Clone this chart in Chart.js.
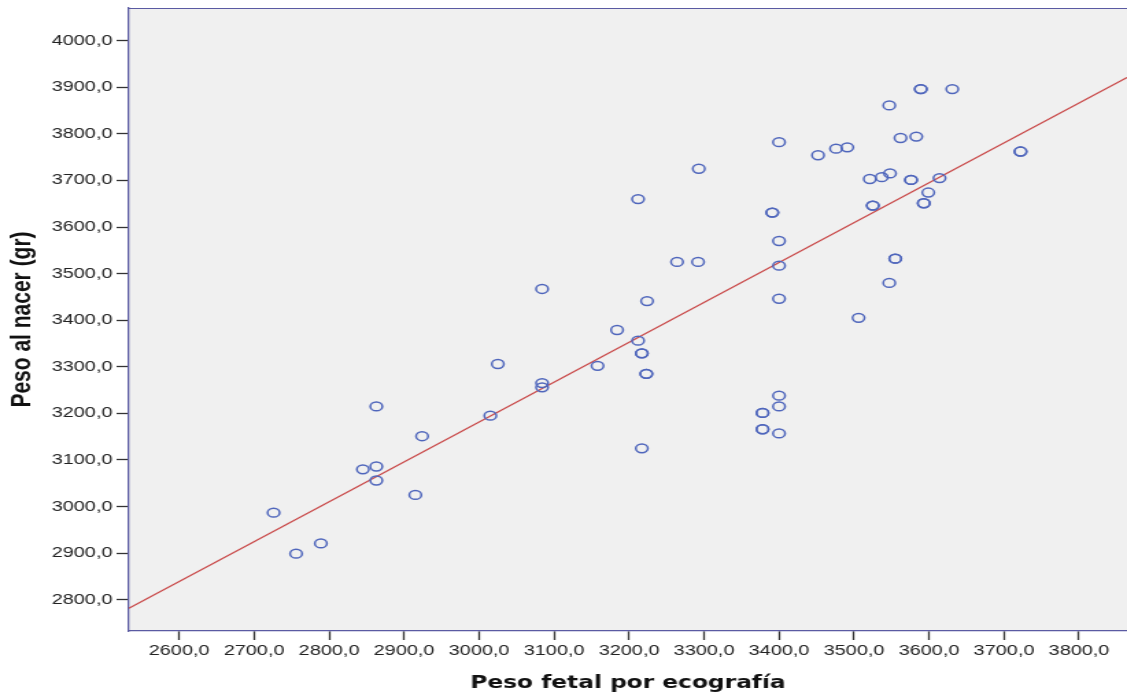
<!doctype html>
<html>
<head>
<meta charset="utf-8">
<title>Peso fetal por ecografía vs Peso al nacer</title>
<style>
  html, body { margin: 0; padding: 0; background: #fff; }
  /* the chart is drawn narrow and stretched sideways, like the original export */
  #chart { display: block; width: 1127px !important; height: 697px !important; }
</style>
</head>
<body>
<canvas id="chart" width="822" height="697" style="width:1127px;height:697px"></canvas>
<script src="https://cdn.jsdelivr.net/npm/chart.js"></script>
<script>
// Peso fetal por ecografía (x) and peso al nacer (y), one entry per case
const pesoEco = [
  2726, 2756, 2789, 2845, 2863, 2863, 2863, 2915, 2924, 3015,
  3025, 3084, 3084, 3084, 3158, 3184, 3212, 3212, 3217, 3217,
  3217, 3223, 3223, 3224, 3264, 3292, 3293, 3378, 3378, 3378,
  3378, 3391, 3391, 3400, 3400, 3400, 3400, 3400, 3400, 3400,
  3452, 3476, 3491, 3506, 3521, 3525, 3525, 3537, 3548, 3547,
  3547, 3555, 3555, 3562, 3576, 3576, 3583, 3589, 3589, 3593,
  3593, 3599, 3614, 3631, 3722, 3722
];
const pesoNacer = [
  2987, 2899, 2921, 3080, 3086, 3056, 3215, 3025, 3151, 3195,
  3306, 3265, 3256, 3467, 3302, 3379, 3660, 3356, 3329, 3329,
  3125, 3285, 3285, 3441, 3525, 3525, 3725, 3201, 3201, 3166,
  3166, 3631, 3631, 3782, 3570, 3517, 3446, 3238, 3215, 3157,
  3754, 3768, 3771, 3405, 3703, 3646, 3646, 3707, 3715, 3861,
  3480, 3532, 3532, 3791, 3701, 3701, 3794, 3896, 3896, 3651,
  3651, 3674, 3705, 3896, 3762, 3762
];

// fit line, read at the two edges of the plot
const fitX = [2533, 3864];
const fitY = [2782, 3921];

const xTicks = [2600, 2700, 2800, 2900, 3000, 3100, 3200, 3300, 3400, 3500, 3600, 3700, 3800];
const yTicks = [2800, 2900, 3000, 3100, 3200, 3300, 3400, 3500, 3600, 3700, 3800, 3900, 4000];

const fmt = (v) => Number(v).toFixed(1).replace('.', ',');

const points = pesoEco.map((x, i) => ({ x: x, y: pesoNacer[i] }));
const fitLine = fitX.map((x, i) => ({ x: x, y: fitY[i] }));

// grey plot area plus the top frame line
const plotBg = {
  id: 'plotBg',
  beforeDraw(chart) {
    const { ctx, chartArea: a } = chart;
    ctx.save();
    ctx.fillStyle = '#f0f0f0';
    ctx.fillRect(a.left, a.top, a.right - a.left, a.bottom - a.top);
    ctx.strokeStyle = '#5a5aa2';
    ctx.lineWidth = 1.2;
    ctx.beginPath();
    ctx.moveTo(a.left, a.top + 0.5);
    ctx.lineTo(a.right, a.top + 0.5);
    ctx.stroke();
    ctx.restore();
  }
};

const tickFont = { family: 'Liberation Sans', size: 14.5 };

new Chart(document.getElementById('chart'), {
  type: 'scatter',
  data: {
    datasets: [
      {
        label: 'Peso al nacer',
        data: points,
        pointStyle: 'circle',
        pointRadius: 4.4,
        pointHoverRadius: 4.4,
        pointBorderWidth: 1.5,
        pointBorderColor: '#4f66bc',
        pointBackgroundColor: 'rgba(0,0,0,0)',
        order: 1
      },
      {
        type: 'line',
        label: 'Ajuste',
        data: fitLine,
        borderColor: '#c94848',
        borderWidth: 1.2,
        pointRadius: 0,
        fill: false,
        order: 2
      }
    ]
  },
  options: {
    responsive: false,
    animation: false,
    devicePixelRatio: 1,
    layout: { autoPadding: false, padding: { top: 8, left: 0, right: 0, bottom: 0 } },
    plugins: {
      legend: { display: false },
      tooltip: { enabled: false }
    },
    scales: {
      x: {
        type: 'linear',
        min: 2533,
        max: 3864,
        afterBuildTicks: (s) => { s.ticks = xTicks.map((v) => ({ value: v })); },
        afterFit: (s) => { s.height = 66; s.paddingLeft = 0; s.paddingRight = 0; },
        grid: { drawOnChartArea: false, drawTicks: true, tickLength: 9, tickColor: '#333', tickWidth: 1.3 },
        border: { display: true, color: '#5a5aa2', width: 1.3 },
        ticks: { font: tickFont, color: '#222', padding: 2, maxRotation: 0, autoSkip: false, callback: fmt },
        title: {
          display: true,
          text: 'Peso fetal por ecografía',
          color: '#111',
          font: { family: 'DejaVu Sans', size: 17, weight: 'bold' },
          padding: { top: 0, bottom: 3 }
        }
      },
      y: {
        type: 'linear',
        min: 2733,
        max: 4070,
        afterBuildTicks: (s) => { s.ticks = yTicks.map((v) => ({ value: v })); },
        afterFit: (s) => { s.width = 94; s.paddingTop = 0; s.paddingBottom = 0; },
        grid: { drawOnChartArea: false, drawTicks: true, tickLength: 9, tickColor: '#333', tickWidth: 1.3 },
        border: { display: true, color: '#5a5aa2', width: 1.3 },
        ticks: { font: tickFont, color: '#222', padding: 3, autoSkip: false, callback: fmt },
        title: {
          display: true,
          text: 'Peso al nacer (gr)',
          color: '#111',
          font: { family: 'Liberation Sans', size: 21, weight: 'bold' },
          padding: { top: 4, bottom: 0 }
        }
      }
    }
  },
  plugins: [plotBg]
});
</script>
</body>
</html>
